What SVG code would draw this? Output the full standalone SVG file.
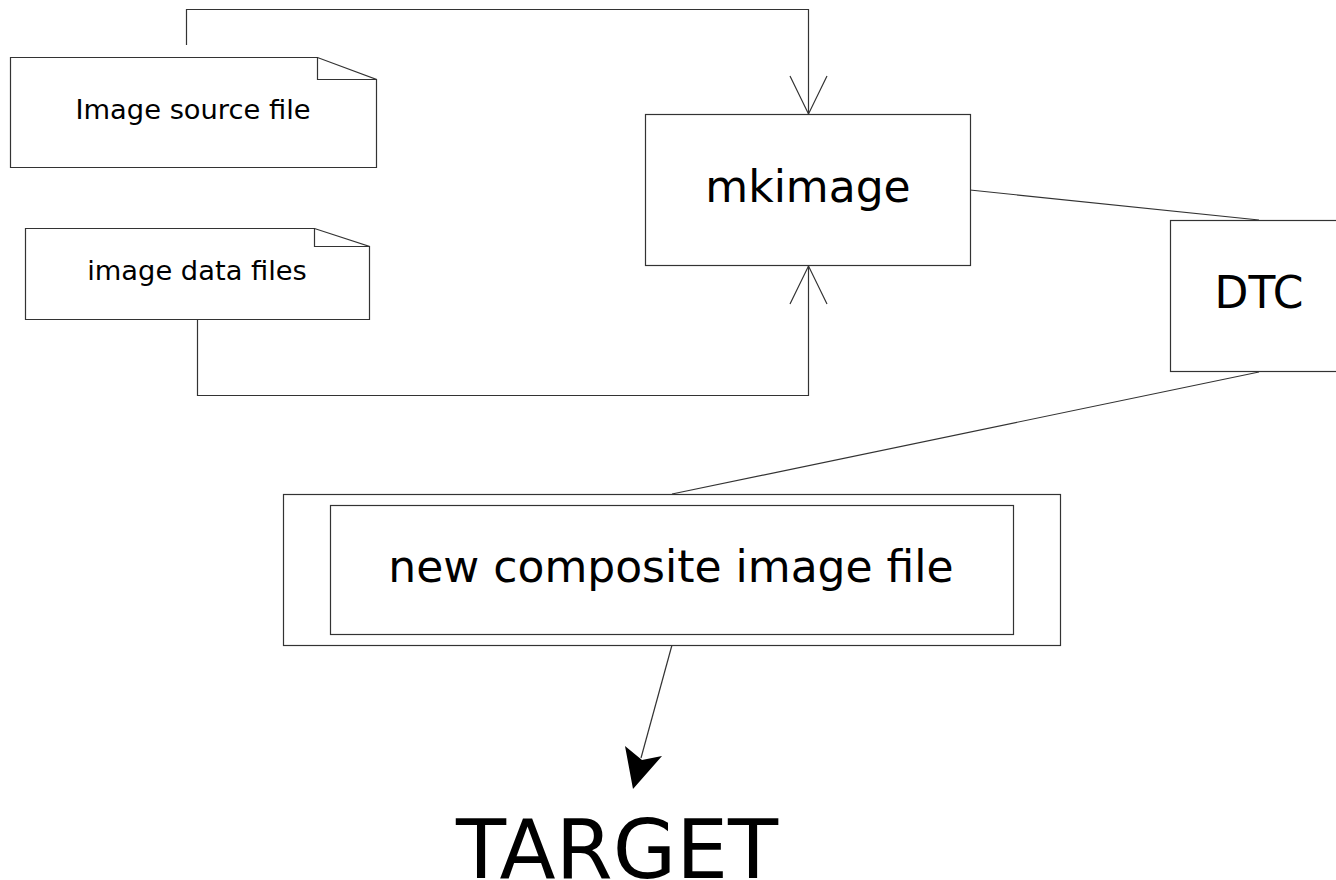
<svg xmlns="http://www.w3.org/2000/svg" width="1336" height="880" viewBox="0 0 1336 880">
<style>
.s{fill:#fff;stroke:#333;stroke-width:1.2}
.l{fill:none;stroke:#333;stroke-width:1.2}
text{font-family:"DejaVu Sans",sans-serif;fill:#000;text-anchor:middle}
</style>
<rect width="1336" height="880" fill="#fff"/>
<g id="connectors">
<path class="l" d="M186.5,45 V9.5 H808.5 V114"/>
<path class="l" d="M790,76 L808.5,114 L827,76"/>
<path class="l" d="M197.5,319 V395.5 H808.5 V266"/>
<path class="l" d="M790,304 L808.5,266 L827,304"/>
<path class="l" d="M970,190 L1259,220"/>
<path class="l" d="M1259,372 L672,494"/>
<path class="l" d="M672,645 L641,758"/>
<path d="M633,789 L625,746 L642,760 L662,756 Z" fill="#000"/>
</g>
<g id="image-source-file">
<path class="s" d="M10.5,57.5 H317.5 L376.5,79.5 V167.5 H10.5 Z"/>
<path class="l" d="M317.5,57.5 V79.5 H376.5"/>
<text x="193" y="119" font-size="27.3">Image source file</text>
</g>
<g id="image-data-files">
<path class="s" d="M25.5,228.5 H314.5 L369.5,246.5 V319.5 H25.5 Z"/>
<path class="l" d="M314.5,228.5 V246.5 H369.5"/>
<text x="197" y="280" font-size="27.3">image data files</text>
</g>
<g id="mkimage">
<rect class="s" x="645.5" y="114.5" width="325" height="151"/>
<text x="808" y="202" font-size="44">mkimage</text>
</g>
<g id="dtc">
<rect class="s" x="1170.5" y="220.5" width="170" height="151"/>
<text x="1259" y="308" font-size="44">DTC</text>
</g>
<g id="composite">
<rect class="s" x="283.5" y="494.5" width="777" height="151"/>
<rect class="s" x="330.5" y="505.5" width="683" height="129"/>
<text x="671" y="582" font-size="44">new composite image file</text>
</g>
<g id="target">
<text x="617" y="878" font-size="82">TARGET</text>
</g>
</svg>
